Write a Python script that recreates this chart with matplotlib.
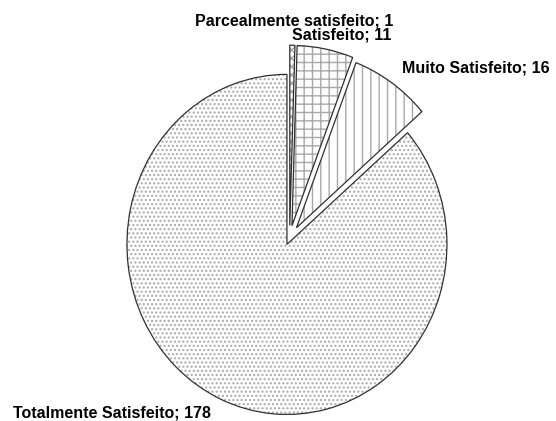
import matplotlib.pyplot as plt

# dados
categorias = ['Parcealmente satisfeito', 'Satisfeito', 'Muito Satisfeito', 'Totalmente Satisfeito']
valores = [1, 11, 16, 178]

# estilo de cada fatia
hachuras = ['xxxx', '++', '||', '....']
afastamento = [0.075, 0.075, 0.075, 0.04]
raios = [1.06, 1.06, 1.04, 1.0]

plt.rcParams['font.family'] = ['Liberation Sans', 'DejaVu Sans']
plt.rcParams['hatch.linewidth'] = 1.0

fig = plt.figure(figsize=(5.56, 4.21), dpi=100)
ax = fig.add_axes([0, 0, 1, 1])

# camada das hachuras
fundo, _ = ax.pie(valores, startangle=90, counterclock=False, explode=afastamento,
                  colors=['white'] * 4,
                  wedgeprops=dict(linewidth=0, edgecolor='#a8a8a8'))
for w, h, r in zip(fundo, hachuras, raios):
    w.set_hatch(h)
    w.set_radius(r)

# contornos das fatias
bordas, _ = ax.pie(valores, startangle=90, counterclock=False, explode=afastamento,
                   wedgeprops=dict(fill=False, linewidth=0.9, edgecolor='#303030'))
for w, r in zip(bordas, raios):
    w.set_radius(r)

ax.set_aspect('auto')
ax.set_xlim(-1.81, 1.665)
ax.set_ylim(-1.075, 1.401)
ax.axis('off')

# rotulos (posicao em pixels: esquerda, linha de base)
rotulos = [f'{c}; {v}' for c, v in zip(categorias, valores)]
pos_rotulos = [(195, 25), (292, 40), (401.7, 72.7), (13, 417)]
for txt, (px, py) in zip(rotulos, pos_rotulos):
    ax.text(px / 556, 1 - py / 421, txt, transform=ax.transAxes,
            ha='left', va='baseline', fontsize=11.5, fontweight='bold')

fig.savefig('out.png', dpi=100)
